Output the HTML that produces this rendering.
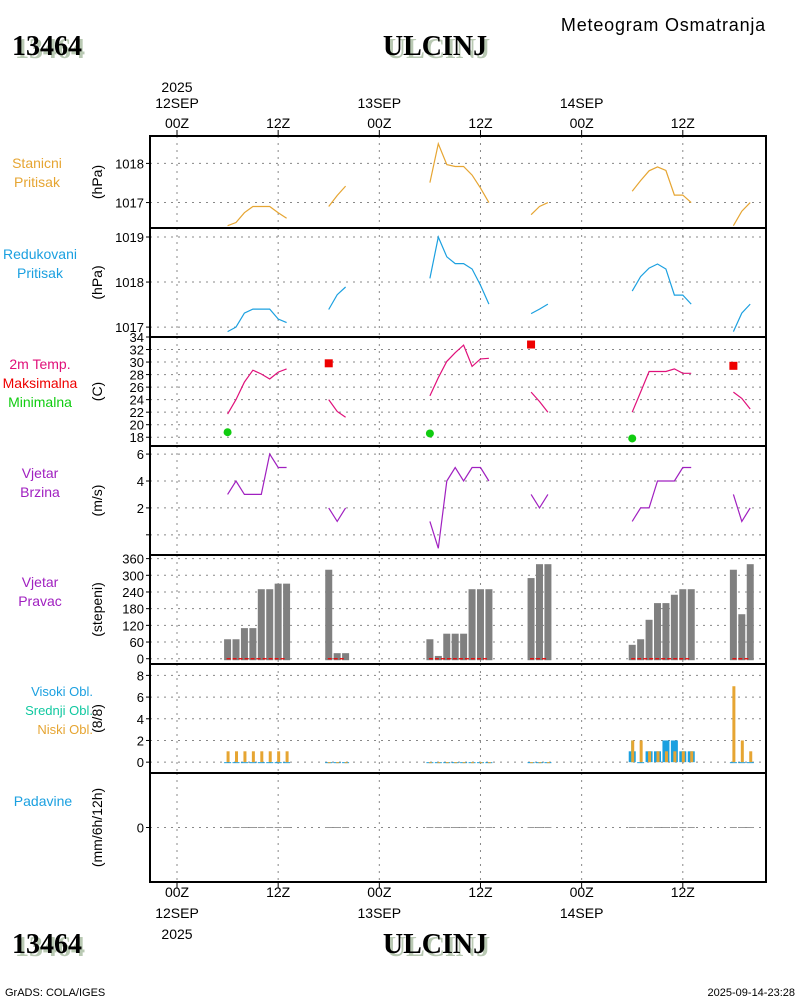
<!DOCTYPE html>
<html><head><meta charset="utf-8">
<style>
html,body{margin:0;padding:0;background:#fff;}
svg{display:block;font-family:"Liberation Sans",sans-serif;}
</style></head>
<body>
<svg id="chart" width="800" height="1000" viewBox="0 0 800 1000" xmlns="http://www.w3.org/2000/svg">
<rect x="0" y="0" width="800" height="1000" fill="#fff"/>
<g>
<text x="15" y="58" font-family="Liberation Serif,serif" font-weight="bold" font-size="28" fill="#b9c9b3">13464</text>
<text x="12" y="55" font-family="Liberation Serif,serif" font-weight="bold" font-size="28" fill="#000">13464</text>
<text x="438" y="58" text-anchor="middle" font-family="Liberation Serif,serif" font-weight="bold" font-size="28" fill="#b9c9b3">ULCINJ</text>
<text x="435" y="55" text-anchor="middle" font-family="Liberation Serif,serif" font-weight="bold" font-size="28" fill="#000">ULCINJ</text>
<text x="766" y="31" text-anchor="end" font-size="18" letter-spacing="0.8" fill="#000">Meteogram Osmatranja</text>
</g>
<g>
<text x="15" y="956" font-family="Liberation Serif,serif" font-weight="bold" font-size="28" fill="#b9c9b3">13464</text>
<text x="12" y="953" font-family="Liberation Serif,serif" font-weight="bold" font-size="28" fill="#000">13464</text>
<text x="438" y="956" text-anchor="middle" font-family="Liberation Serif,serif" font-weight="bold" font-size="28" fill="#b9c9b3">ULCINJ</text>
<text x="435" y="953" text-anchor="middle" font-family="Liberation Serif,serif" font-weight="bold" font-size="28" fill="#000">ULCINJ</text>
<text x="5" y="996" font-size="11" fill="#000">GrADS: COLA/IGES</text>
<text x="795" y="996" text-anchor="end" font-size="11" fill="#000">2025-09-14-23:28</text>
</g>
<g id="plot"></g>
</svg>
<script>
const hours = [6,7,8,9,10,11,12,13,18,19,20,30,31,32,33,34,35,36,37,42,43,44,54,55,56,57,58,59,60,61,66,67,68];
const stationP = [1016.41,1016.49,1016.74,1016.9,1016.9,1016.9,1016.74,1016.6,1016.9,1017.18,1017.42,1017.51,1018.5,1017.97,1017.92,1017.92,1017.7,1017.37,1017.0,1016.69,1016.9,1017.0,1017.29,1017.56,1017.81,1017.91,1017.82,1017.19,1017.19,1017.0,1016.41,1016.78,1017.0];
const reducedP = [1016.9,1017.0,1017.31,1017.4,1017.4,1017.4,1017.18,1017.1,1017.39,1017.72,1017.89,1018.08,1019.0,1018.56,1018.41,1018.41,1018.29,1017.93,1017.51,1017.3,1017.4,1017.51,1017.8,1018.12,1018.31,1018.4,1018.29,1017.71,1017.71,1017.51,1016.9,1017.31,1017.51];
const temp2m = [21.7,24.0,26.8,28.7,28.1,27.3,28.4,28.9,24.0,22.1,21.2,24.6,27.5,30.1,31.5,32.7,29.3,30.5,30.6,25.2,23.7,22.0,22.0,25.2,28.5,28.5,28.5,28.9,28.2,28.2,25.2,24.2,22.5];
const windSpeed = [3,4,3,3,3,6,5,5,2,1,2,1,-1,4,5,4,5,5,4,3,2,3,1,2,2,4,4,4,5,5,3,1,2];
const windDir = [70,70,110,110,250,250,270,270,320,20,20,70,10,90,90,90,250,250,250,290,340,340,50,70,140,200,200,230,250,250,320,160,340];
const lowCloud = [1,1,1,1,1,1,1,1,0,0,0,0,0,0,0,0,0,0,0,0,0,0,2,2,1,1,1,1,1,1,7,2,1];
const midCloud = [0,0,0,0,0,0,0,0,0,0,0,0,0,0,0,0,0,0,0,0,0,0,2,0,0,0,0,0,0,0,0,0,0];
const highCloud = [0,0,0,0,0,0,0,0,0,0,0,0,0,0,0,0,0,0,0,0,0,0,1,0,1,1,2,2,1,1,0,0,0];
const precip = [0,0,0,0,0,0,0,0,0,0,0,0,0,0,0,0,0,0,0,0,0,0,0,0,0,0,0,0,0,0,0,0,0];
const maxHours = [18,42,66];
const maxTemp = [29.8,32.8,29.4];
const minHours = [6,30,54];
const minTemp = [18.8,18.6,17.8];
const timeTicks = [0,12,24,36,48,60];
const timeLabels = ["00Z","12Z","00Z","12Z","00Z","12Z"];
const dayLabels = ["12SEP","","13SEP","","14SEP",""];

const NS="http://www.w3.org/2000/svg";
const plot=document.getElementById('plot');
const X0=150,X1=766;
function xs(h){return 177+8.43*h;}
function mk(tag,attrs,parent){const e=document.createElementNS(NS,tag);for(const k in attrs)e.setAttribute(k,attrs[k]);(parent||plot).appendChild(e);return e;}
function txt(x,y,s,attrs,parent){const e=mk('text',Object.assign({x:x,y:y},attrs),parent);e.textContent=s;return e;}

const panels=[
 {id:'station-pressure',top:136,bot:228,min:1016.35,max:1018.7,ticks:[1017,1018],unit:'(hPa)',
  labels:[['Stanicni','#e6a532'],['Pritisak','#e6a532']],lx:37,ly:168},
 {id:'reduced-pressure',top:228,bot:337,min:1016.78,max:1019.2,ticks:[1017,1018,1019],unit:'(hPa)',
  labels:[['Redukovani','#1ba0e0'],['Pritisak','#1ba0e0']],lx:40,ly:259},
 {id:'temperature',top:337,bot:446,min:16.6,max:34.0,ticks:[18,20,22,24,26,28,30,32,34],unit:'(C)',
  labels:[['2m Temp.','#e0107a'],['Maksimalna','#ee0000'],['Minimalna','#10cc10']],lx:40,ly:369},
 {id:'wind-speed',top:446,bot:555,min:-1.5,max:6.6,ticks:[2,4,6],tickMarks:[0,2,4,6],unit:'(m/s)',
  labels:[['Vjetar','#a020c0'],['Brzina','#a020c0']],lx:40,ly:478},
 {id:'wind-direction',top:555,bot:664,min:-19,max:373,ticks:[0,60,120,180,240,300,360],unit:'(stepeni)',
  labels:[['Vjetar','#a020c0'],['Pravac','#a020c0']],lx:40,ly:587},
 {id:'cloud-cover',top:664,bot:773,min:-1,max:9.05,ticks:[0,2,4,6,8],unit:'(8/8)',
  labels:[['Visoki Obl.','#1ba0e0'],['Srednji Obl.','#10c8a0'],['Niski Obl.','#e6a532']],lx:93,ly:696,anchor:'end',fs:13},
 {id:'precipitation',top:773,bot:882,min:-1,max:1,ticks:[0],unit:'(mm/6h/12h)',
  labels:[['Padavine','#1ba0e0']],lx:43,ly:806}
];
panels.forEach(p=>{p.y=v=>p.bot-(v-p.min)/(p.max-p.min)*(p.bot-p.top);});

panels.forEach(p=>{
 const g=mk('g',{});
 
 
 timeTicks.forEach(t=>{const l=mk('line',{x1:xs(t),x2:xs(t),y1:p.top,y2:p.bot,stroke:'#888','stroke-dasharray':'2,5','stroke-width':1},g);
  });
 (p.tickMarks||p.ticks).forEach(t=>{const yy=p.y(t);
  const l=mk('line',{x1:X0,x2:X1,y1:yy,y2:yy,stroke:'#888','stroke-dasharray':'2,5','stroke-width':1},g);
  
  const tk=mk('line',{x1:X0-4,x2:X0,y1:yy,y2:yy,stroke:'#000','stroke-width':1},g);
  
 });
 p.ticks.forEach(t=>{const yy=p.y(t);
  const tl=txt(X0-6,yy+5,String(t),{'text-anchor':'end','font-size':13,fill:'#000'},g);
  
 });
 const cy=(p.top+p.bot)/2;
 const u=txt(0,0,p.unit,{'text-anchor':'middle','font-size':14,fill:'#000',transform:`translate(102,${cy}) rotate(-90)`},g);
 
 p.labels.forEach((lb,i)=>{
  const t=txt(p.lx,p.ly+i*19,lb[0],{'text-anchor':p.anchor||'middle','font-size':p.fs||14,fill:lb[1]},g);
  
 });
 p.g=g;
});

function segments(){const segs=[];let cur=[];hours.forEach((h,i)=>{if(cur.length&&h-hours[cur[cur.length-1]]>1){segs.push(cur);cur=[];}cur.push(i);});segs.push(cur);return segs;}
const segs=segments();
function drawLine(p,vals,color,name){
 segs.forEach(s=>{const d=s.map((i,k)=>(k?'L':'M')+xs(hours[i]).toFixed(1)+','+p.y(vals[i]).toFixed(1)).join(' ');
  const e=mk('path',{d:d,fill:'none',stroke:color,'stroke-width':1.2},p.g);
  });
}
drawLine(panels[0],stationP,'#e6a532','station-pressure-line');
drawLine(panels[1],reducedP,'#1ba0e0','reduced-pressure-line');
drawLine(panels[2],temp2m,'#e0107a','temperature-line');
drawLine(panels[3],windSpeed,'#a020c0','wind-speed-line');
maxHours.forEach((h,i)=>{const p=panels[2];
 const r=mk('rect',{x:xs(h)-4,y:p.y(maxTemp[i])-4,width:8,height:8,fill:'#ee0000'},p.g);
 });
minHours.forEach((h,i)=>{const p=panels[2];
 const c=mk('circle',{cx:xs(h),cy:p.y(minTemp[i]),r:4,fill:'#10cc10'},p.g);
 });
hours.forEach((h,i)=>{const p=panels[4];const y0=p.y(0)+1.5,yv=p.y(windDir[i]);
 const r=mk('rect',{x:xs(h)-3.5,y:yv,width:7,height:Math.max(1,y0-yv),fill:'#808080'},p.g);
 });
segs.forEach(s=>{const p=panels[4];
 const l=mk('line',{x1:xs(hours[s[0]])-1,x2:xs(hours[s[s.length-1]])-1,y1:p.y(0),y2:p.y(0),stroke:'#ee0000','stroke-width':1.2,'stroke-dasharray':'4,2'},p.g);
 });
hours.forEach((h,i)=>{const p=panels[5];const y0=p.y(0);
 const yh=p.y(highCloud[i]);
 const b=mk('rect',{x:xs(h)-3.5,y:yh,width:7,height:Math.max(1,y0-yh),fill:'#1ba0e0'},p.g);
 
 if(midCloud[i]>0){const ym=p.y(midCloud[i]);
  const m=mk('rect',{x:xs(h)-1,y:ym,width:1.5,height:y0-ym,fill:'#10d890'},p.g);
  }
 const yl=p.y(lowCloud[i]);
 const o=mk('rect',{x:xs(h)-1,y:yl,width:3,height:Math.max(1,y0-yl),fill:'#e6a532'},p.g);
 });
hours.forEach((h,i)=>{const p=panels[6];const y0=p.y(0),yv=p.y(precip[i]);
 const r=mk('rect',{x:xs(h)-3.5,y:Math.min(yv,y0-0.5),width:7,height:Math.max(1,y0-yv),fill:'#999'},p.g);
 });
panels.forEach(p=>{const r=mk('rect',{x:X0,y:p.top,width:X1-X0,height:p.bot-p.top,fill:'none',stroke:'#000','stroke-width':2});
 });
timeTicks.forEach((t,i)=>{const x=xs(t);
 const a=mk('line',{x1:x,x2:x,y1:130,y2:136,stroke:'#000'});
 const b=mk('line',{x1:x,x2:x,y1:882,y2:888,stroke:'#000'});
 const l1=txt(x,128,timeLabels[i],{'text-anchor':'middle','font-size':14});
 const l2=txt(x,897,timeLabels[i],{'text-anchor':'middle','font-size':14});
 if(dayLabels[i]){
  const d1=txt(x,108,dayLabels[i],{'text-anchor':'middle','font-size':14});
  const d2=txt(x,918,dayLabels[i],{'text-anchor':'middle','font-size':14});
 }
 if(i===0){
  const y1=txt(x,92,'2025',{'text-anchor':'middle','font-size':14});
  const y2=txt(x,939,'2025',{'text-anchor':'middle','font-size':14});
 }
});
</script>
</body></html>
